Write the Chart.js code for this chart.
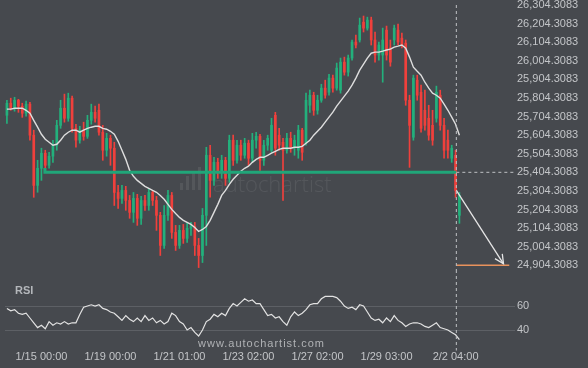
<!DOCTYPE html>
<html>
<head>
<meta charset="utf-8">
<script src="https://cdn.jsdelivr.net/npm/chart.js@4.4.1/dist/chart.umd.min.js"></script>
<style>
  html, body { margin: 0; padding: 0; background: #46494e; }
  #wrap { position: relative; width: 588px; height: 368px; overflow: hidden; }
  #priceBox { position: absolute; left: 0; top: 0; width: 588px; height: 280px; }
  #rsiBox { position: absolute; left: 0; top: 272px; width: 588px; height: 96px; }
</style>
</head>
<body>
<div id="wrap">
  <div id="priceBox"><canvas id="price"></canvas></div>
  <div id="rsiBox"><canvas id="rsi"></canvas></div>
</div>
<script>
// candles, one per bar index
var open = [25711,25776,25749,25792,25760,25722,25771,25604,25334,25426,25507,25442,25491,25550,25657,25749,25695,25803,25641,25577,
  25631,25598,25684,25727,25738,25620,25523,25587,25534,25296,25264,25307,25253,25189,25264,25157,25253,25226,25296,25253,
  25173,25011,25173,25280,25081,25011,25092,25049,25103,25113,25011,24957,25173,25496,25361,25458,25404,25469,25372,25577,
  25469,25550,25496,25561,25480,25577,25598,25469,25550,25523,25711,25604,25566,25523,25587,25539,25523,25631,25561,25765,
  25819,25738,25792,25857,25835,25911,25857,25846,25997,25943,26019,26105,26116,26212,26180,26223,26116,26035,26035,26169,
  26073,26116,26169,26126,26099,25792,25593,25900,25835,25738,25695,25657,25695,25819,25657,25577,25480,25496,25173];
var high = [25792,25803,25808,25797,25776,25787,25781,25631,25469,25534,25523,25512,25577,25684,25792,25825,25830,25814,25663,25652,
  25674,25711,25771,25760,25771,25657,25614,25604,25566,25334,25334,25329,25280,25296,25286,25275,25280,25318,25307,25275,
  25189,25226,25307,25296,25119,25119,25124,25135,25135,25135,25049,25210,25539,25550,25485,25480,25496,25485,25604,25604,
  25577,25577,25587,25577,25614,25620,25609,25577,25604,25695,25727,25641,25587,25614,25620,25604,25657,25641,25830,25846,
  25835,25819,25878,25900,25932,25927,25992,26019,26024,26035,26116,26142,26234,26245,26239,26239,26159,26105,26180,26191,
  26116,26196,26202,26153,26116,25819,25927,25927,25873,25846,25765,25738,25868,25846,25695,25631,25550,25523,25296];
var low = [25668,25738,25733,25727,25700,25706,25577,25270,25297,25361,25415,25426,25458,25523,25641,25674,25679,25620,25539,25561,
  25577,25587,25663,25674,25604,25469,25491,25442,25226,25210,25237,25200,25157,25135,25119,25124,25200,25200,25226,25092,
  24957,24995,25146,25049,24984,24995,25022,25027,25065,24957,24892,24919,25011,25270,25334,25372,25372,25334,25350,25442,
  25453,25469,25480,25442,25458,25534,25415,25442,25523,25512,25496,25523,25253,25507,25512,25496,25480,25469,25550,25727,
  25711,25717,25781,25803,25819,25835,25846,25830,25927,25922,26008,26073,26105,26159,26169,26089,25997,26008,25889,26008,
  25975,26089,26089,26073,25765,25431,25577,25792,25620,25631,25577,25550,25674,25631,25480,25480,25458,25270,25130];
var close = [25776,25749,25792,25760,25722,25771,25604,25334,25426,25507,25442,25491,25550,25657,25749,25695,25803,25641,25577,25631,
  25598,25684,25727,25695,25620,25523,25587,25534,25296,25264,25307,25253,25189,25264,25157,25253,25226,25296,25253,25173,
  25011,25173,25280,25081,25011,25092,25049,25103,25113,25011,24957,25173,25496,25361,25458,25404,25469,25372,25577,25469,
  25550,25496,25561,25480,25577,25598,25469,25550,25587,25657,25534,25550,25523,25587,25539,25577,25631,25512,25792,25819,
  25738,25792,25857,25819,25911,25857,25965,25997,25943,26019,26105,26089,26196,26180,26223,26116,26035,26089,26116,26035,
  25997,26180,26105,26089,25792,25657,25911,25819,25641,25657,25604,25577,25835,25657,25523,25523,25534,25307,25280];

// moving average (white line)
var ma = [25744,25744,25749,25749,25749,25738,25722,25684,25647,25609,25582,25566,25550,25555,25577,25604,25620,25631,25631,25620,
  25631,25641,25647,25652,25652,25641,25636,25625,25609,25571,25523,25474,25415,25383,25361,25345,25329,25318,25307,25297,
  25280,25259,25232,25205,25183,25162,25146,25135,25124,25108,25086,25097,25113,25146,25189,25232,25280,25307,25340,25367,
  25388,25410,25426,25437,25458,25474,25485,25485,25496,25507,25517,25528,25534,25534,25534,25539,25539,25544,25561,25577,
  25604,25625,25647,25674,25701,25728,25760,25787,25814,25841,25873,25911,25954,25986,26019,26045,26051,26051,26056,26062,
  26067,26078,26083,26089,26072,26024,25970,25948,25927,25889,25857,25830,25819,25803,25771,25738,25701,25663,25604];

// RSI sub panel
var rsi = [58,56,57,54,53,54,50,46,42,44,41,47,44,46,45,47,45,46,46,53,
  59,60,61,60,61,58,57,55,54,51,48,52,49,47,50,47,52,48,50,46,
  48,45,47,54,52,47,45,40,42,38,35,40,47,49,53,51,54,52,58,62,
  60,63,66,64,65,62,62,57,52,53,50,51,47,44,51,55,52,54,57,61,
  62,62,66,68,68,68,67,64,60,58,59,57,61,60,55,50,48,49,46,50,
  47,52,48,46,43,45,46,46,45,43,42,44,46,42,41,40,38,36,32];

var priceTicks = [26304.3083,26204.3083,26104.3083,26004.3083,25904.3083,25804.3083,25704.3083,25604.3083,
  25504.3083,25404.3083,25304.3083,25204.3083,25104.3083,25004.3083,24904.3083];
var rsiTicks = [60, 40];
var timeTicks = [9, 27, 45, 63, 81, 99, 117];
var timeLabels = ['1/15 00:00','1/19 00:00','1/21 01:00','1/23 02:00','1/27 02:00','1/29 03:00','2/2 04:00'];

// pattern level, current bar and forecast
var levelLine = [{x: 9.9, y: 25428}, {x: 9.9, y: 25404.3083}, {x: 117.2, y: 25404.3083}];
var levelTail = [{x: 117.2, y: 25404.3083}, {x: 132.5, y: 25404.3083}];
var nowLine = [{x: 117.2, y: 26304.3083}, {x: 117.2, y: 24852}];
var nowLineRsi = [{x: 117.2, y: 90}, {x: 117.2, y: 23}];
var forecast = [{x: 117.2, y: 25307}, {x: 129.5, y: 24912}];
var target = [{x: 117.2, y: 24904.3083}, {x: 131, y: 24904.3083}];

var GREEN = '#23b07c', RED = '#f0403c', TEXT = '#c3c5c8';
Chart.defaults.font.family = '"Liberation Sans", Arial, sans-serif';
Chart.defaults.font.size = 11;
Chart.defaults.color = TEXT;

var colors = open.map(function(v, i) { return close[i] >= v ? GREEN : RED; });
var wicks = open.map(function(v, i) { return {x: i, y: [low[i], high[i]]}; });
var bodies = open.map(function(v, i) { return {x: i, y: [Math.min(v, close[i]), Math.max(v, close[i])]}; });
var maPts = ma.map(function(v, i) { return {x: i, y: v}; });
var rsiPts = rsi.map(function(v, i) { return {x: i, y: v}; });

function fixWidth(s) { s.width = 73; s.paddingTop = 0; s.paddingBottom = 0; }

var watermark = {
  id: 'watermark',
  beforeDatasetsDraw: function(chart) {
    var ctx = chart.ctx;
    ctx.save();
    ctx.fillStyle = 'rgba(255,255,255,0.08)';
    ctx.fillRect(180, 183, 3, 7);
    ctx.fillRect(186, 176, 3, 14);
    ctx.fillRect(192, 171, 3, 19);
    ctx.fillRect(198, 167, 3, 23);
    ctx.font = '300 22px "Open Sans", sans-serif';
    ctx.textBaseline = 'alphabetic';
    ctx.fillText('autochartist', 213, 192);
    ctx.restore();
  }
};

var arrowHead = {
  id: 'arrowHead',
  afterDatasetsDraw: function(chart) {
    var xs = chart.scales.x, ys = chart.scales.y;
    var a = forecast[0], b = forecast[1];
    var x1 = xs.getPixelForValue(a.x), y1 = ys.getPixelForValue(a.y);
    var x2 = xs.getPixelForValue(b.x), y2 = ys.getPixelForValue(b.y);
    var ang = Math.atan2(y2 - y1, x2 - x1);
    var ctx = chart.ctx;
    ctx.save();
    ctx.strokeStyle = '#e6e6e6';
    ctx.lineWidth = 1.3;
    ctx.beginPath();
    ctx.moveTo(x2 - 10 * Math.cos(ang - 0.45), y2 - 10 * Math.sin(ang - 0.45));
    ctx.lineTo(x2, y2);
    ctx.lineTo(x2 - 10 * Math.cos(ang + 0.45), y2 - 10 * Math.sin(ang + 0.45));
    ctx.stroke();
    ctx.restore();
  }
};

var lineDs = function(data, color, width, order, dash) {
  return {type: 'line', data: data, borderColor: color, borderWidth: width, pointRadius: 0,
    borderDash: dash || [], order: order, clip: false, tension: 0};
};

new Chart(document.getElementById('price'), {
  type: 'bar',
  data: {
    datasets: [
      {data: wicks, backgroundColor: colors, barThickness: 1, grouped: false, order: 6},
      {data: bodies, backgroundColor: colors, barThickness: 2, grouped: false, order: 5},
      lineDs(maPts, '#dedede', 1.4, 3),
      lineDs(levelLine, '#20a679', 3, 2),
      lineDs(levelTail, '#bfc1c4', 1, 1, [3, 3]),
      lineDs(nowLine, '#bfc1c4', 1, 1, [3, 3]),
      lineDs(forecast, '#e6e6e6', 1.3, 1),
      lineDs(target, '#e8925c', 1.5, 1)
    ]
  },
  options: {
    responsive: true, maintainAspectRatio: false, animation: false, events: [],
    layout: {padding: {top: 5, left: 5, right: 0, bottom: 5}},
    plugins: {legend: {display: false}, tooltip: {enabled: false}},
    scales: {
      x: {type: 'linear', min: -0.5, max: 132.5, offset: false, display: false},
      y: {
        position: 'right', min: 24852, max: 26304.3083,
        grid: {display: false, drawTicks: false}, border: {display: false},
        afterBuildTicks: function(s) { s.ticks = priceTicks.map(function(v) { return {value: v}; }); },
        afterFit: fixWidth,
        ticks: {
          padding: 2, color: TEXT,
          callback: function(v) { return Number(v).toLocaleString('en-US', {minimumFractionDigits: 4, maximumFractionDigits: 4}); }
        }
      }
    }
  },
  plugins: [watermark, arrowHead]
});

var rsiText = {
  id: 'rsiText',
  afterDraw: function(chart) {
    var ctx = chart.ctx;
    ctx.save();
    ctx.fillStyle = '#b4b7bb';
    ctx.font = 'bold 11px "Liberation Sans", Arial, sans-serif';
    ctx.textBaseline = 'middle';
    ctx.fillText('RSI', 15, 19);
    ctx.fillStyle = '#b0b2b5';
    ctx.font = '11px "Liberation Sans", Arial, sans-serif';
    ctx.letterSpacing = '1px';
    ctx.fillText('www.autochartist.com', 198, 72);
    ctx.restore();
  }
};

new Chart(document.getElementById('rsi'), {
  type: 'line',
  data: {
    datasets: [
      lineDs(rsiPts, '#e2e2e2', 1.2, 2),
      lineDs(nowLineRsi, '#bfc1c4', 1, 1, [3, 3])
    ]
  },
  options: {
    responsive: true, maintainAspectRatio: false, animation: false, events: [],
    layout: {padding: {top: 10, left: 5, right: 0, bottom: 0}},
    plugins: {legend: {display: false}, tooltip: {enabled: false}},
    scales: {
      x: {
        type: 'linear', min: -0.5, max: 132.5, offset: false,
        grid: {display: false, drawTicks: false}, border: {display: false},
        afterBuildTicks: function(s) { s.ticks = timeTicks.map(function(v) { return {value: v}; }); },
        afterFit: function(s) { s.height = 20; s.paddingLeft = 0; s.paddingRight = 0; },
        ticks: {
          padding: 2, color: TEXT, autoSkip: false, maxRotation: 0,
          callback: function(v) { return timeLabels[timeTicks.indexOf(v)]; }
        }
      },
      y: {
        position: 'right', min: 25, max: 80,
        grid: {color: '#5d6065', lineWidth: 1, drawTicks: false}, border: {display: false},
        afterBuildTicks: function(s) { s.ticks = rsiTicks.map(function(v) { return {value: v}; }); },
        afterFit: fixWidth,
        ticks: {padding: 2, color: TEXT}
      }
    }
  },
  plugins: [rsiText]
});
</script>
</body>
</html>
